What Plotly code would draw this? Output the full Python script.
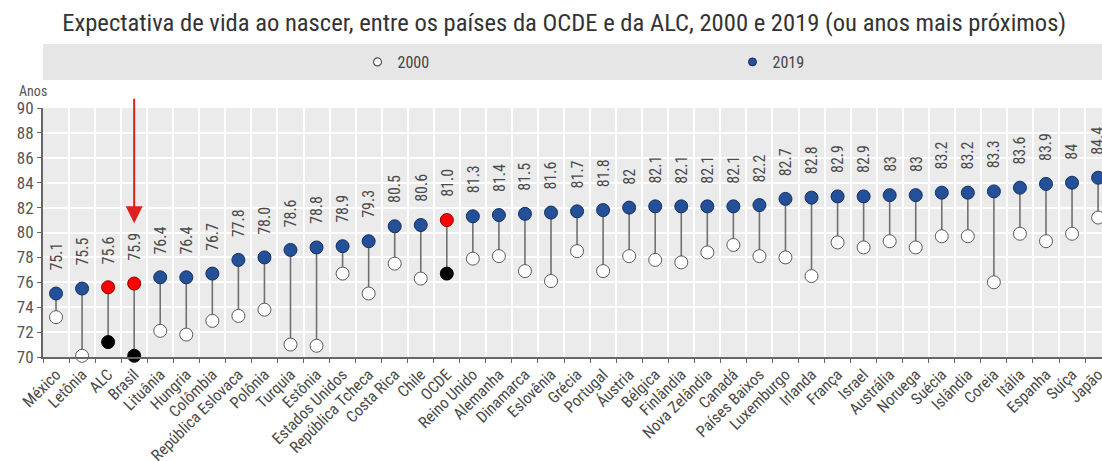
import plotly.graph_objects as go

countries = ["México", "Letônia", "ALC", "Brasil", "Lituânia", "Hungria", "Colômbia",
             "República Eslovaca", "Polônia", "Turquia", "Estônia", "Estados Unidos",
             "República Tcheca", "Costa Rica", "Chile", "OCDE", "Reino Unido", "Alemanha",
             "Dinamarca", "Eslovênia", "Grécia", "Portugal", "Áustria", "Bélgica",
             "Finlândia", "Nova Zelândia", "Canadá", "Países Baixos", "Luxemburgo",
             "Irlanda", "França", "Israel", "Austrália", "Noruega", "Suécia", "Islândia",
             "Coreia", "Itália", "Espanha", "Suíça", "Japão"]

v2019 = [75.1, 75.5, 75.6, 75.9, 76.4, 76.4, 76.7, 77.8, 78.0, 78.6, 78.8, 78.9, 79.3,
         80.5, 80.6, 81.0, 81.3, 81.4, 81.5, 81.6, 81.7, 81.8, 82.0, 82.1, 82.1, 82.1,
         82.1, 82.2, 82.7, 82.8, 82.9, 82.9, 83.0, 83.0, 83.2, 83.2, 83.3, 83.6, 83.9,
         84.0, 84.4]

label2019 = ["75.1", "75.5", "75.6", "75.9", "76.4", "76.4", "76.7", "77.8", "78.0",
             "78.6", "78.8", "78.9", "79.3", "80.5", "80.6", "81.0", "81.3", "81.4",
             "81.5", "81.6", "81.7", "81.8", "82", "82.1", "82.1", "82.1", "82.1", "82.2",
             "82.7", "82.8", "82.9", "82.9", "83", "83", "83.2", "83.2", "83.3", "83.6",
             "83.9", "84", "84.4"]

v2000 = [73.2, 70.1, 71.2, 70.1, 72.1, 71.8, 72.9, 73.3, 73.8, 71.0, 70.9, 76.7, 75.1,
         77.5, 76.3, 76.7, 77.9, 78.1, 76.9, 76.1, 78.5, 76.9, 78.1, 77.8, 77.6, 78.4,
         79.0, 78.1, 78.0, 76.5, 79.2, 78.8, 79.3, 78.8, 79.7, 79.7, 76.0, 79.9, 79.3,
         79.9, 81.2]

highlight = ["ALC", "Brasil", "OCDE"]
y_ticks = [70, 72, 74, 76, 78, 80, 82, 84, 86, 88, 90]

BLUE = "#24509a"
FONT = "Roboto Condensed, Roboto, Liberation Sans, sans-serif"

fill2019 = ["#ff0000" if c in highlight else BLUE for c in countries]
line2019 = ["#8a0000" if c in highlight else "#15305e" for c in countries]
fill2000 = ["#000000" if c in highlight else "#ffffff" for c in countries]
line2000 = ["#000000" if c in highlight else "#5a5a5a" for c in countries]

stem_x, stem_y = [], []
for c, a, b in zip(countries, v2000, v2019):
    stem_x += [c, c, None]
    stem_y += [a, b, None]

fig = go.Figure()
fig.add_trace(go.Scatter(x=stem_x, y=stem_y, mode="lines",
                         line=dict(color="#707070", width=1.6),
                         showlegend=False, hoverinfo="skip", cliponaxis=False))
fig.add_trace(go.Scatter(x=countries, y=v2000, mode="markers", name="2000",
                         marker=dict(size=13, color=fill2000,
                                     line=dict(color=line2000, width=1)),
                         showlegend=False, cliponaxis=False))
fig.add_trace(go.Scatter(x=countries, y=v2019, mode="markers", name="2019",
                         marker=dict(size=13, color=fill2019,
                                     line=dict(color=line2019, width=1)),
                         showlegend=False, cliponaxis=False))
# legend entries (smaller symbols, as in the reference legend)
fig.add_trace(go.Scatter(x=[None], y=[None], mode="markers", name="2000",
                         marker=dict(size=8, color="white", line=dict(color="#555555", width=1.2))))
fig.add_trace(go.Scatter(x=[None], y=[None], mode="markers", name="2019",
                         marker=dict(size=8, color=BLUE, line=dict(color="#15305e", width=1))))

annotations = []
for c, v, t in zip(countries, v2019, label2019):
    annotations.append(dict(x=c, y=v, xref="x", yref="y", text=t, textangle=-90,
                            showarrow=False, xanchor="center", yanchor="bottom",
                            yshift=21, font=dict(family=FONT, size=16, color="#4a4a4a")))

# red arrow pointing to Brazil
annotations.append(dict(x="Brasil", y=80.75, xref="x", yref="y", text="",
                        showarrow=True, ax=0, ay=-126, arrowcolor="#e02020",
                        arrowwidth=2, arrowhead=2, arrowsize=1.7))
annotations.append(dict(x=0, y=1.0, xref="paper", yref="paper", text="Anos",
                        showarrow=False, xanchor="right", yanchor="bottom",
                        xshift=6, yshift=7,
                        font=dict(family=FONT, size=14, color="#555555")))

fig.update_layout(
    width=1102, height=461,
    margin=dict(l=43, r=0, t=108, b=104, autoexpand=False),
    paper_bgcolor="white", plot_bgcolor="#ebebeb",
    font=dict(family=FONT, color="#444444"),
    title=dict(text="Expectativa de vida ao nascer, entre os países da OCDE e da ALC, 2000 e 2019 (ou anos mais próximos)",
               x=0.512, xanchor="center", xref="container",
               y=0.952, yanchor="middle", yref="container",
               font=dict(family=FONT, size=24.6, color="#333333")),
    showlegend=True,
    legend=dict(orientation="h", x=0.3244, xanchor="left", xref="container",
                y=0.8655, yanchor="middle", yref="container",
                bgcolor="rgba(0,0,0,0)", itemwidth=30,
                entrywidth=330, entrywidthmode="pixels",
                font=dict(family=FONT, size=16, color="#444444")),
    shapes=[dict(type="rect", xref="paper", yref="paper", x0=0, x1=1, y0=1.112, y1=1.257,
                 fillcolor="#e6e6e6", line=dict(width=0), layer="below")],
    annotations=annotations,
)

fig.update_xaxes(type="category", categoryorder="array", categoryarray=countries,
                 range=[-0.5, 40.15], tickson="boundaries", ticks="outside", ticklen=4,
                 tickcolor="#666666", showgrid=True, gridcolor="white", gridwidth=1.5,
                 showline=True, linecolor="#666666", linewidth=2, tickangle=-45,
                 automargin=False,
                 tickfont=dict(family=FONT, size=16, color="#4a4a4a"), zeroline=False)
fig.update_yaxes(range=[70, 90], tickvals=y_ticks, ticks="outside", ticklen=4,
                 tickcolor="#666666", showgrid=True, gridcolor="white", gridwidth=1.5,
                 showline=True, linecolor="#666666", linewidth=2, zeroline=False,
                 automargin=False,
                 tickfont=dict(family=FONT, size=17, color="#555555"))

fig.write_html("out.html", config={"displayModeBar": False},
               post_script="document.body.style.margin='0';")
